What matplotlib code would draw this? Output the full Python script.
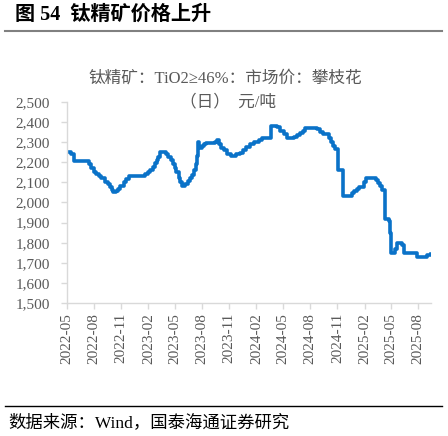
import matplotlib
matplotlib.use("Agg")
import matplotlib.pyplot as plt
import matplotlib.dates as mdates
import numpy as np
from datetime import datetime

plt.rcParams['font.family'] = ['Liberation Serif', 'Noto Sans CJK SC', 'DejaVu Sans']

dates = [
    "2022-05-01", "2022-05-17", "2022-05-25", "2022-07-16", "2022-07-23", "2022-08-01",
    "2022-08-08", "2022-08-17", "2022-08-25", "2022-09-08", "2022-09-16", "2022-09-25",
    "2022-10-01", "2022-10-06", "2022-10-16", "2022-10-22", "2022-10-27", "2022-11-10",
    "2022-11-16", "2022-11-27", "2023-01-21", "2023-01-30", "2023-02-07", "2023-02-15",
    "2023-02-22", "2023-03-01", "2023-03-07", "2023-03-13", "2023-04-01", "2023-04-09",
    "2023-04-18", "2023-04-24", "2023-05-01", "2023-05-07", "2023-05-14", "2023-05-20",
    "2023-05-27", "2023-06-06", "2023-06-14", "2023-06-20", "2023-06-28", "2023-07-05",
    "2023-07-11", "2023-07-14", "2023-07-17", "2023-07-23", "2023-07-31", "2023-08-08",
    "2023-08-16", "2023-09-13", "2023-09-21", "2023-09-28", "2023-10-05", "2023-10-13",
    "2023-10-25", "2023-11-06", "2023-11-23", "2023-12-06", "2023-12-17", "2023-12-29",
    "2024-01-10", "2024-01-24", "2024-02-10", "2024-02-21", "2024-03-20", "2024-04-11",
    "2024-04-20", "2024-05-03", "2024-05-15", "2024-06-07", "2024-06-18", "2024-06-29",
    "2024-07-07", "2024-07-13", "2024-08-25", "2024-09-02", "2024-09-14", "2024-10-02",
    "2024-10-09", "2024-10-17", "2024-10-24", "2024-11-02", "2024-11-18", "2024-12-19",
    "2024-12-27", "2025-01-05", "2025-01-14", "2025-01-28", "2025-02-04", "2025-03-10",
    "2025-03-19", "2025-03-26", "2025-04-01", "2025-04-09", "2025-04-12", "2025-04-24",
    "2025-04-26", "2025-04-30", "2025-05-16", "2025-05-22", "2025-06-06", "2025-06-14",
    "2025-07-29", "2025-09-01", "2025-09-12",
]
prices = [
    2250, 2240, 2205, 2190, 2170, 2150,
    2140, 2130, 2120, 2100, 2090, 2075,
    2060, 2050, 2055, 2065, 2080, 2100,
    2115, 2130, 2140, 2150, 2160, 2175,
    2195, 2210, 2225, 2250, 2240, 2225,
    2210, 2190, 2170, 2150, 2120, 2100,
    2080, 2090, 2105, 2120, 2135, 2160,
    2190, 2230, 2300, 2270, 2280, 2290,
    2295, 2300, 2308, 2290, 2270, 2260,
    2240, 2230, 2240, 2245, 2260, 2275,
    2290, 2300, 2310, 2318, 2380, 2375,
    2355, 2340, 2320, 2325, 2335, 2345,
    2355, 2370, 2365, 2350, 2340, 2320,
    2300, 2280, 2265, 2160, 2030, 2045,
    2055, 2065, 2075, 2100, 2120, 2110,
    2095, 2080, 2060, 2020, 1920, 1910,
    1850, 1750, 1770, 1800, 1790, 1750,
    1730, 1740, 1745,
]
tick_labels = ["2022-05", "2022-08", "2022-11", "2023-02", "2023-05", "2023-08", "2023-11",
               "2024-02", "2024-05", "2024-08", "2024-11", "2025-02", "2025-05", "2025-08"]
y_ticks = list(range(1500, 2501, 100))

x = [datetime.strptime(d, "%Y-%m-%d") for d in dates]
tick_pos = [datetime.strptime(t + "-01", "%Y-%m-%d") for t in tick_labels]

W, H = 448, 436
fig = plt.figure(figsize=(W / 100, H / 100), dpi=100)
ax = fig.add_axes([66.7 / W, 1 - 303.3 / H, (431 - 66.7) / W, (303.3 - 101.7) / H])

ax.plot(x, prices, color='#0A72C8', lw=2.6, drawstyle='steps-post', solid_joinstyle='round')

ax.set_ylim(1500, 2500)
ax.set_xlim(datetime(2022, 5, 1), datetime(2025, 9, 13))
ax.set_yticks(y_ticks)
ax.set_yticklabels([f"{v:,}" for v in y_ticks])
ax.set_xticks(tick_pos)
ax.set_xticklabels(tick_labels, rotation=90)

gray = '#595959'
for s in ['top', 'right']:
    ax.spines[s].set_visible(False)
for s in ['left', 'bottom']:
    ax.spines[s].set_color('#d9d9d9')
    ax.spines[s].set_linewidth(1.0)
ax.tick_params(axis='both', colors='#d9d9d9', labelcolor=gray, labelsize=11, length=4, width=1.0)
ax.tick_params(axis='y', pad=8)
ax.tick_params(axis='x', pad=3)

fig.text(15 / W, 1 - 15 / H, "图 54  钛精矿价格上升", fontsize=14.5, fontweight='bold',
         va='center', ha='left', color='black')
fig.add_artist(plt.Line2D([5 / W, 442 / W], [1 - 31 / H, 1 - 31 / H], color='#808080', lw=1.5))
fig.text(225 / W, 1 - 79 / H, "钛精矿：TiO2≥46%：市场价：攀枝花", fontsize=12,
         ha='center', va='center', color=gray)
fig.text(228 / W, 1 - 102 / H, "（日）  元/吨", fontsize=12, ha='center', va='center', color=gray)
fig.add_artist(plt.Line2D([5 / W, 442 / W], [1 - 406 / H, 1 - 406 / H], color='black', lw=1.0))
fig.text(8 / W, 1 - 423 / H, "数据来源：Wind，国泰海通证券研究", fontsize=12.5,
         ha='left', va='center', color='black')

fig.savefig("out.png", dpi=100)
